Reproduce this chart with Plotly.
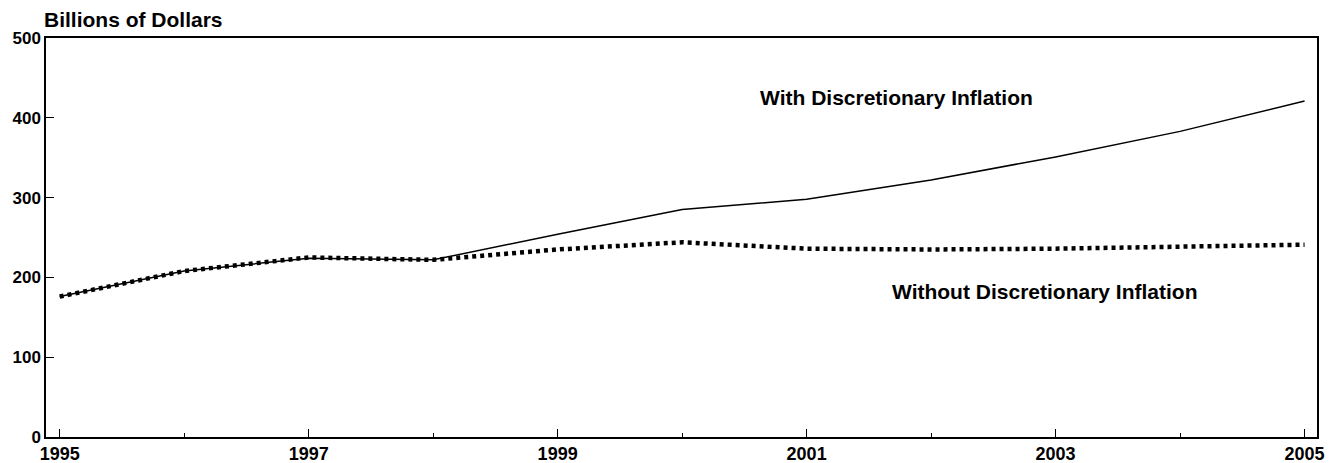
import plotly.graph_objects as go

years = [1995, 1996, 1997, 1998, 1999, 2000, 2001, 2002, 2003, 2004, 2005]
with_infl = [176, 208, 224, 222, 254, 285, 298, 322, 351, 383, 421]
without_infl = [176, 208, 225, 222, 235, 244, 236, 235, 236, 238, 241]
x_ticks = [1995, 1997, 1999, 2001, 2003, 2005]
y_ticks = [0, 100, 200, 300, 400, 500]

FONT = "Liberation Sans, Arial, sans-serif"

fig = go.Figure()
fig.add_trace(go.Scatter(x=years, y=with_infl, mode="lines",
                         line=dict(color="black", width=1.5), showlegend=False))
fig.add_trace(go.Scatter(x=years, y=without_infl, mode="lines",
                         line=dict(color="black", width=4.5, dash="4px,4px"), showlegend=False))

fig.add_annotation(x=2001.72, y=425, xref="x", yref="y", text="<b>With Discretionary Inflation</b>",
                   showarrow=False, font=dict(family=FONT, size=21, color="black"))
fig.add_annotation(x=2002.91, y=182, xref="x", yref="y", text="<b>Without Discretionary Inflation</b>",
                   showarrow=False, font=dict(family=FONT, size=21, color="black"))
fig.add_annotation(x=0, y=1, xref="paper", yref="paper", xanchor="left", yanchor="bottom",
                   xshift=-4, yshift=5, text="<b>Billions of Dollars</b>",
                   showarrow=False, font=dict(family=FONT, size=21, color="black"))

# page body has an 8px default margin; compensate so the plot area lands at the reference position
fig.update_layout(
    width=1326, height=455,
    margin=dict(l=38, r=17, t=30, b=26, autoexpand=False),
    paper_bgcolor="white", plot_bgcolor="white",
    font=dict(family=FONT, color="black"),
)
fig.update_xaxes(range=[1994.89, 2005.1], tickvals=x_ticks, ticktext=[f"<b>{t}</b>" for t in x_ticks],
                 ticks="inside", ticklen=8, tickwidth=1.2, tickcolor="black",
                 minor=dict(tickvals=[1996, 1998, 2000, 2002, 2004], ticks="inside", ticklen=4, tickcolor="black"),
                 showline=True, linecolor="black", linewidth=1.5, mirror=True, automargin=False,
                 showgrid=False, zeroline=False, tickfont=dict(size=18, family=FONT))
fig.update_yaxes(range=[0, 500], tickvals=y_ticks, ticktext=[f"<b>{t}</b>" for t in y_ticks],
                 ticks="inside", ticklen=8, tickwidth=1.2, tickcolor="black",
                 showline=True, linecolor="black", linewidth=1.5, mirror=True, automargin=False,
                 showgrid=False, zeroline=False, tickfont=dict(size=17, family=FONT))

fig.write_html("out.html")
